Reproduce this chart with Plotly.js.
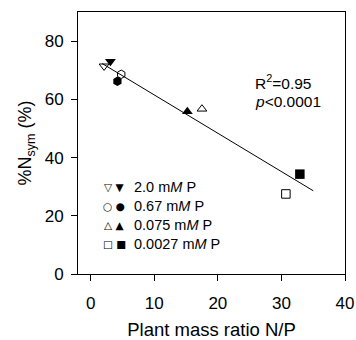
<!DOCTYPE html>
<html><head><meta charset="utf-8">
<script src="https://cdn.plot.ly/plotly-3.0.1.min.js"></script>
<style>html,body{margin:0;padding:0;background:#fff}#c{width:356px;height:340px}</style>
</head><body><div id="c"></div>
<script>
// Data
const seriesNames = ["2.0 mM P", "0.67 mM P", "0.075 mM P", "0.0027 mM P"];
const openSymbols = ["triangle-down-open", "hexagon-open", "triangle-up-open", "square-open"];
const filledSymbols = ["triangle-down", "hexagon", "triangle-up", "square"];
const openX = [2.1, 4.8, 17.5, 30.7];
const openY = [71.4, 68.6, 56.7, 27.5];
const filledX = [3.1, 4.2, 15.2, 32.9];
const filledY = [73, 66.2, 55.8, 34.3];
const fitX = [1.8, 35];
const fitY = [72.3, 28.6];
const legendLabels = ["2.0 m<i>M</i> P", "0.67 m<i>M</i> P", "0.075 m<i>M</i> P", "0.0027 m<i>M</i> P"];
const legendGlyphs = ["\u25BD \u25BC", "\u25CB \u25CF", "\u25B3 \u25B2", "\u25A1 \u25A0"];
const xTicks = [0, 10, 20, 30, 40];
const yTicks = [0, 20, 40, 60, 80];

const font = "Liberation Sans, Arial, Helvetica, sans-serif";
const traces = [
  {x: fitX, y: fitY, mode: "lines", line: {color: "#000", width: 1}, showlegend: false, hoverinfo: "skip"},
  {x: openX, y: openY, mode: "markers", showlegend: false,
   marker: {symbol: openSymbols, size: 8.5, color: "#000", line: {width: 1, color: "#000"}}},
  {x: filledX, y: filledY, mode: "markers", showlegend: false,
   marker: {symbol: filledSymbols, size: 9.5, color: "#000", line: {width: 0}}}
];
const annotations = [
  {xref: "paper", yref: "paper", x: 0.655, y: 0.733, xanchor: "left", yanchor: "middle", showarrow: false,
   text: "R<sup>2</sup>=0.95", font: {family: font, size: 15.5, color: "#000"}},
  {xref: "paper", yref: "paper", x: 0.655, y: 0.66, xanchor: "left", yanchor: "middle", showarrow: false,
   text: "<i>p</i><0.0001", font: {family: font, size: 15.5, color: "#000"}}
];
const rowY = [0.332, 0.26, 0.187, 0.115];
legendLabels.forEach((t, i) => {
  annotations.push({xref: "paper", yref: "paper", x: 0.135, y: rowY[i], xanchor: "center", yanchor: "middle",
    showarrow: false, text: legendGlyphs[i], font: {family: "DejaVu Sans", size: 10.5, color: "#000"}});
  annotations.push({xref: "paper", yref: "paper", x: 0.203, y: rowY[i], xanchor: "left", yanchor: "middle",
    showarrow: false, text: t, font: {family: font, size: 14.5, color: "#000"}});
});
const layout = {
  width: 356, height: 340,
  margin: {l: 78, r: 11, t: 12, b: 66},
  paper_bgcolor: "#fff", plot_bgcolor: "#fff",
  font: {family: font, size: 17, color: "#000"},
  xaxis: {range: [-2, 40], tickvals: xTicks, ticks: "outside", ticklen: 6, tickwidth: 1, tickcolor: "#000",
    showline: true, linecolor: "#000", linewidth: 1, mirror: true, showgrid: false, zeroline: false,
    ticklabelstandoff: 8, tickfont: {size: 17},
    title: {text: "Plant mass ratio N/P", font: {family: font, size: 18.5}, standoff: 15}},
  yaxis: {range: [0, 90], tickvals: yTicks, ticks: "outside", ticklen: 6, tickwidth: 1, tickcolor: "#000",
    showline: true, linecolor: "#000", linewidth: 1, mirror: true, showgrid: false, zeroline: false,
    ticklabelstandoff: 4, tickfont: {size: 17},
    title: {text: "%N<sub>sym</sub> (%)", font: {family: font, size: 18}, standoff: 8}},
  annotations: annotations,
  showlegend: false
};
Plotly.newPlot("c", traces, layout, {staticPlot: true, displayModeBar: false});
</script></body></html>
